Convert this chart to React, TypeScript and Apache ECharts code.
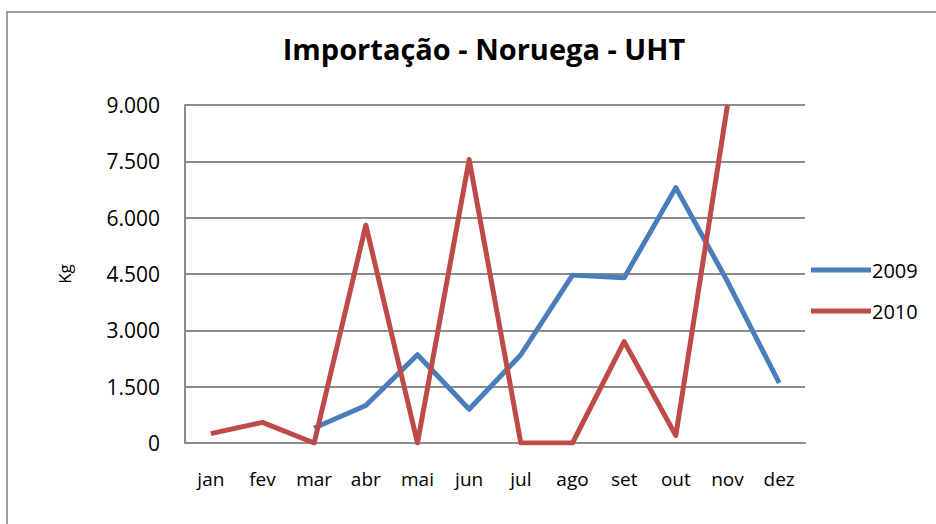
import React, { useEffect, useRef } from "react";
import * as echarts from "echarts";

const months = ["jan", "fev", "mar", "abr", "mai", "jun", "jul", "ago", "set", "out", "nov", "dez"];
const values2009: (number | null)[] = [null, null, 400, 1000, 2350, 900, 2350, 4470, 4400, 6800, 4300, 1600];
const values2010: (number | null)[] = [250, 550, 0, 5800, 0, 7550, 0, 0, 2700, 200, 9000, null];
const yTicks = { min: 0, max: 9000, interval: 1500 };

const FONT = "'Open Sans', 'Noto Sans', sans-serif";

function fmt(v: number): string {
  return String(v).replace(/\B(?=(\d{3})+(?!\d))/g, ".");
}

export default function App() {
  const ref = useRef<HTMLDivElement>(null);
  useEffect(() => {
    if (!ref.current) return;
    const chart = echarts.init(ref.current, null, { renderer: "svg" });
    chart.setOption({
      animation: false,
      backgroundColor: "#ffffff",
      title: {
        text: "Importação - Noruega - UHT",
        left: 479,
        top: 29,
        textAlign: "center",
        textStyle: { fontFamily: FONT, fontSize: 29, fontWeight: "bold", color: "#000" },
      },
      graphic: [
        {
          type: "rect",
          shape: { x: 7, y: 12, width: 960, height: 560 },
          style: { fill: "none", stroke: "#a0a0a0", lineWidth: 2 },
          silent: true,
        },
      ],
      legend: {
        orient: "vertical",
        left: 806,
        top: 255,
        itemWidth: 60,
        itemHeight: 5,
        itemGap: 21,
        icon: "rect",
        textStyle: { fontFamily: FONT, fontSize: 20, color: "#000", padding: [0, 0, 0, -4] },
        data: ["2009", "2010"],
      },
      grid: { left: 185, right: 131, top: 105, bottom: 81 },
      xAxis: {
        type: "category",
        data: months,
        boundaryGap: true,
        axisLine: { show: true, lineStyle: { color: "#8c8c8c", width: 2 } },
        axisTick: { show: false },
        axisLabel: { fontFamily: FONT, fontSize: 19, color: "#000", margin: 26 },
      },
      yAxis: {
        type: "value",
        min: yTicks.min,
        max: yTicks.max,
        interval: yTicks.interval,
        name: "Kg",
        nameLocation: "middle",
        nameGap: 112,
        nameTextStyle: { fontFamily: FONT, fontSize: 17, color: "#000" },
        axisLine: { show: true, lineStyle: { color: "#8c8c8c", width: 2 } },
        axisTick: { show: false },
        splitLine: { show: true, lineStyle: { color: "#8c8c8c", width: 2 } },
        axisLabel: {
          fontFamily: FONT,
          fontSize: 21,
          color: "#000",
          margin: 25,
          formatter: (v: number) => fmt(v),
        },
      },
      series: [
        {
          name: "2009",
          type: "line",
          data: values2009,
          symbol: "none",
          connectNulls: false,
          lineStyle: { width: 5, color: "#4a7ebb", join: "round" },
          itemStyle: { color: "#4a7ebb" },
        },
        {
          name: "2010",
          type: "line",
          data: values2010,
          symbol: "none",
          connectNulls: false,
          lineStyle: { width: 5, color: "#be4b48", join: "round" },
          itemStyle: { color: "#be4b48" },
        },
      ],
    });
    return () => chart.dispose();
  }, []);
  return (
    <div
      ref={ref}
      style={{ position: "fixed", left: 0, top: 0, width: 936, height: 524 }}
    />
  );
}
